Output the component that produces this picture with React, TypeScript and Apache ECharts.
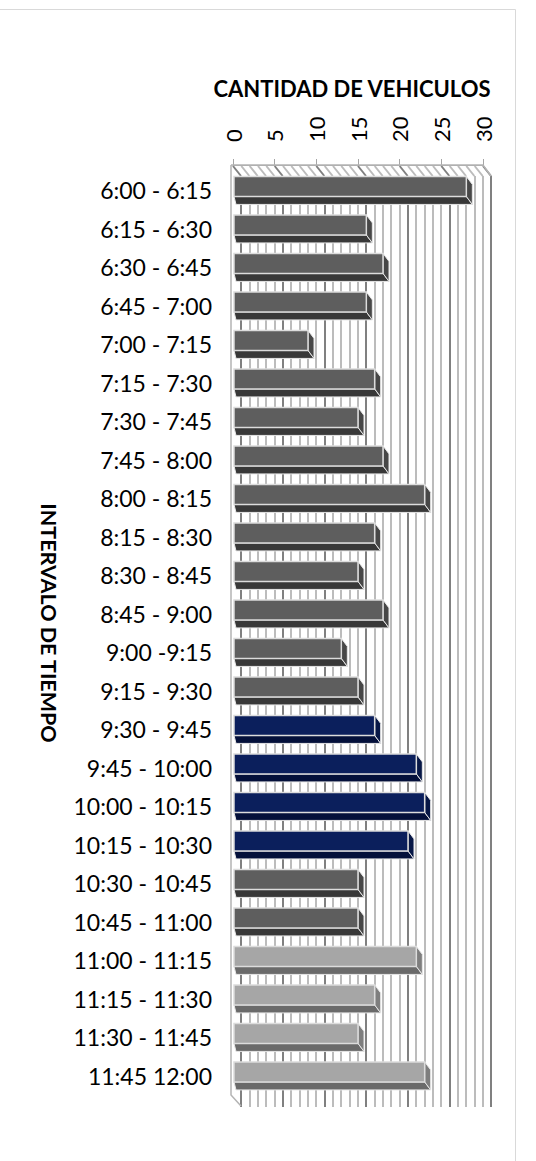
import React, { useEffect, useRef } from "react";
import * as echarts from "echarts";

// Vehicle counts per 15-minute interval
const intervals = [
  "6:00 - 6:15", "6:15 - 6:30", "6:30 - 6:45", "6:45 - 7:00",
  "7:00 - 7:15", "7:15 - 7:30", "7:30 - 7:45", "7:45 - 8:00",
  "8:00 - 8:15", "8:15 - 8:30", "8:30 - 8:45", "8:45 - 9:00",
  "9:00 -9:15", "9:15 - 9:30", "9:30 - 9:45", "9:45 - 10:00",
  "10:00 - 10:15", "10:15 - 10:30", "10:30 - 10:45", "10:45 - 11:00",
  "11:00 - 11:15", "11:15 - 11:30", "11:30 - 11:45", "11:45 12:00",
];
const vehicles = [28, 16, 18, 16, 9, 17, 15, 18, 23, 17, 15, 18, 13, 15, 17, 22, 23, 21, 15, 15, 22, 17, 15, 23];
// Which part of the morning each interval belongs to
const segment = [
  "normal", "normal", "normal", "normal", "normal", "normal", "normal",
  "normal", "normal", "normal", "normal", "normal", "normal", "normal",
  "pico", "pico", "pico", "pico",
  "normal", "normal",
  "final", "final", "final", "final",
];
const axisMax = 30;

const faces: Record<string, { front: string; side: string; bottom: string }> = {
  normal: { front: "#5e5e5e", side: "#474747", bottom: "#383838" },
  pico: { front: "#0b1f5c", side: "#071746", bottom: "#04103a" },
  final: { front: "#a6a6a6", side: "#7e7e7e", bottom: "#6a6a6a" },
};

const FONT = "Lato, 'Noto Sans', sans-serif";
const DEPTH_X = 8;
const DEPTH_Y = 11;
const GRID_DARK = "#808080";
const GRID_LIGHT = "#bcbcbc";

export default function App() {
  const ref = useRef<HTMLDivElement>(null);

  useEffect(() => {
    if (!ref.current) return;
    const chart = echarts.init(ref.current, null, { renderer: "svg" });

    const option: any = {
      animation: false,
      backgroundColor: "#ffffff",
      grid: [
        { left: 233, top: 171, width: 250, height: 924 },
        { left: 233 + DEPTH_X, top: 171 + 5, width: 250, height: 931 },
      ],
      xAxis: [
        {
          gridIndex: 0,
          type: "value",
          position: "top",
          min: 0,
          max: axisMax,
          interval: 5,
          offset: 6,
          name: "CANTIDAD DE VEHICULOS",
          nameLocation: "middle",
          nameGap: 66,
          nameTextStyle: {
            fontFamily: FONT,
            fontWeight: "bold",
            fontSize: 22,
            color: "#000",
            padding: [0, 12, 0, 0],
          },
          axisLine: { show: true, lineStyle: { color: "#a6a6a6", width: 1 } },
          axisTick: { show: true, length: 6, lineStyle: { color: "#a6a6a6" } },
          axisLabel: { rotate: -90, margin: 23, fontSize: 22, fontFamily: FONT, color: "#000" },
          splitLine: { show: false },
        },
        {
          gridIndex: 1,
          type: "value",
          min: 0,
          max: axisMax,
          interval: 1,
          axisLine: { show: false },
          axisTick: { show: false },
          axisLabel: { show: false },
          splitLine: {
            show: true,
            lineStyle: { color: [GRID_DARK, GRID_LIGHT, GRID_LIGHT, GRID_LIGHT, GRID_LIGHT], width: 2 },
          },
        },
      ],
      yAxis: [
        {
          gridIndex: 0,
          type: "category",
          data: intervals,
          inverse: true,
          axisLine: { show: false },
          axisTick: { show: false },
          axisLabel: { fontSize: 23, fontFamily: FONT, color: "#000", margin: 21 },
        },
        { gridIndex: 1, type: "value", show: false },
      ],
      graphic: [
        {
          type: "rect",
          shape: { x: -1, y: 9.5, width: 516.5, height: 1200 },
          style: { fill: "none", stroke: "#d9d9d9", lineWidth: 1 },
          silent: true,
          z: -10,
        },
        {
          type: "text",
          x: 49,
          y: 623,
          rotation: -Math.PI / 2,
          style: {
            text: "INTERVALO DE TIEMPO",
            fontFamily: FONT,
            fontWeight: "bold",
            fontSize: 21.5,
            fill: "#000",
            align: "center",
            verticalAlign: "middle",
          },
        },
      ],
      series: [
        {
          // walls: hatched top band and left edge
          type: "custom",
          xAxisIndex: 0,
          yAxisIndex: 0,
          z: 1,
          silent: true,
          data: [[0, 0]],
          renderItem: (params: any, api: any) => {
            const cs = params.coordSys;
            const topY = cs.y - 6;
            const backY = cs.y + 5;
            const children: any[] = [];
            for (let v = 0; v <= axisMax; v++) {
              const x = api.coord([v, 0])[0];
              children.push({
                type: "line",
                shape: { x1: x, y1: topY + 1, x2: x + DEPTH_X, y2: backY },
                style: { stroke: v % 5 === 0 ? GRID_DARK : GRID_LIGHT, lineWidth: 2 },
              });
            }
            const x0 = api.coord([0, 0])[0] - 2;
            const x30 = api.coord([axisMax, 0])[0];
            const bottomFront = cs.y + cs.height;
            children.push({
              type: "polyline",
              shape: {
                points: [
                  [x0, topY],
                  [x0, bottomFront],
                  [x0 + DEPTH_X + 2, bottomFront + DEPTH_Y],
                ],
              },
              style: { stroke: "#b4b4b4", lineWidth: 1.5, fill: "none" },
            });
            children.push({
              type: "polyline",
              shape: {
                points: [
                  [x0, topY],
                  [x30, topY],
                  [x30 + DEPTH_X, backY],
                ],
              },
              style: { stroke: "#b4b4b4", lineWidth: 1.5, fill: "none" },
            });
            return { type: "group", children };
          },
        },
        {
          // 3D-style bars: front face plus right and bottom sides
          type: "custom",
          xAxisIndex: 0,
          yAxisIndex: 0,
          z: 3,
          data: vehicles.map((v, i) => [v, i]),
          renderItem: (params: any, api: any) => {
            const v = api.value(0);
            const i = api.value(1);
            const start = api.coord([0, i]);
            const end = api.coord([v, i]);
            const band = api.size([0, 1])[1];
            const cy = start[1];
            const top = cy - band * 0.36;
            const bottom = cy + band * 0.16;
            const x0 = start[0] + 1;
            const x1 = end[0];
            const dx = 6;
            const dy = 8;
            const c = faces[segment[params.dataIndex]];
            return {
              type: "group",
              children: [
                {
                  type: "polygon",
                  shape: {
                    points: [
                      [x0, bottom],
                      [x1, bottom],
                      [x1 + dx, bottom + dy],
                      [x0 + 2, bottom + dy],
                    ],
                  },
                  style: { fill: c.bottom, stroke: "#e6e6e6", lineWidth: 1 },
                },
                {
                  type: "polygon",
                  shape: {
                    points: [
                      [x1, top],
                      [x1 + dx, top + dy],
                      [x1 + dx, bottom + dy],
                      [x1, bottom],
                    ],
                  },
                  style: { fill: c.side, stroke: "#e6e6e6", lineWidth: 1 },
                },
                {
                  type: "rect",
                  shape: { x: x0, y: top, width: x1 - x0, height: bottom - top },
                  style: { fill: c.front, stroke: "#dcdcdc", lineWidth: 1.5 },
                },
              ],
            };
          },
        },
      ],
    };

    chart.setOption(option);
    return () => chart.dispose();
  }, []);

  return (
    <div
      ref={ref}
      style={{ position: "fixed", left: 0, top: 0, width: 536, height: 1161 }}
    />
  );
}
